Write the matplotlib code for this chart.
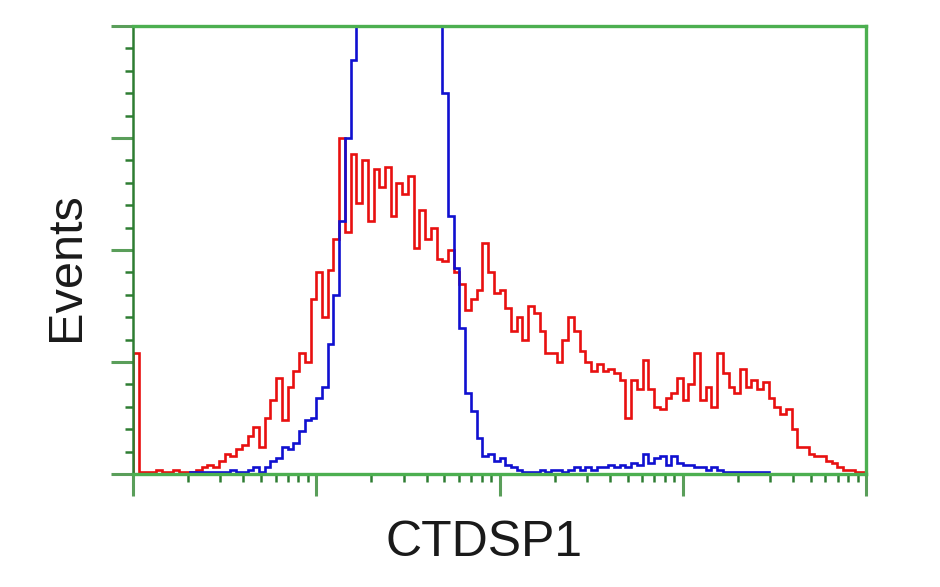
import numpy as np
import matplotlib.pyplot as plt

plt.rcParams['font.family'] = ['Liberation Sans', 'DejaVu Sans']

# histogram counts, 128 log-spaced channels over 4 decades
red_counts = [54, 1, 1, 1, 2, 1, 1, 2, 1, 1, 1, 2, 3, 4, 3, 6,
              9, 8, 11, 13, 17, 21, 12, 25, 33, 43, 24, 39, 46, 54, 50, 78,
              90, 70, 91, 105, 150, 108, 143, 121, 140, 113, 136, 128, 137, 115, 130, 125,
              133, 101, 118, 105, 110, 96, 95, 100, 90, 85, 73, 78, 82, 103, 90, 81,
              82, 74, 64, 70, 60, 75, 72, 64, 54, 54, 50, 60, 70, 64, 55, 50,
              46, 49, 46, 47, 45, 42, 25, 42, 38, 51, 38, 30, 29, 34, 36, 43,
              33, 40, 54, 33, 39, 30, 54, 45, 39, 36, 47, 39, 42, 38, 41, 34,
              30, 27, 29, 20, 12, 12, 9, 8, 8, 6, 5, 3, 2, 2, 1, 1]

blue_counts = [0, 0, 0, 0, 0, 0, 0, 0, 0, 0, 1, 1, 1, 1, 1, 1,
               1, 2, 1, 1, 2, 3, 1, 3, 6, 7, 12, 11, 14, 19, 24, 25,
               34, 39, 58, 80, 113, 150, 185, 215, 230, 240, 245, 250, 250, 248, 245, 240,
               235, 230, 225, 220, 212, 205, 170, 115, 92, 65, 36, 28, 16, 8, 9, 6,
               7, 4, 3, 2, 1, 1, 1, 2, 1, 2, 2, 1, 2, 3, 2, 3,
               2, 3, 3, 4, 3, 4, 3, 5, 4, 9, 5, 7, 8, 4, 8, 5,
               4, 4, 3, 3, 2, 3, 2, 1, 1, 1, 1, 1, 1, 1, 1, 0,
               0, 0, 0, 0, 0, 0, 0, 0, 0, 0, 0, 0, 0, 0, 0, 0]

edges = np.logspace(0, 4, len(red_counts) + 1)

fig = plt.figure(figsize=(9.4, 5.87), dpi=100)
ax = fig.add_axes([133/940, 1 - 474/587, 733/940, 448/587])

ax.stairs(red_counts, edges, color='#e81010', lw=1.9, baseline=0)
ax.stairs(blue_counts, edges, color='#1010d0', lw=1.9, baseline=0)

ax.set_xscale('log')
ax.set_xlim(1, 1e4)
ax.set_ylim(0, 200)
ax.set_yticks([0, 50, 100, 150, 200])
ax.set_yticks(np.arange(0, 201, 10), minor=True)
ax.set_xticks([1, 10, 100, 1000, 10000])
ax.set_xticklabels([])
ax.set_yticklabels([])
ax.set_yticklabels([], minor=True)
ax.set_xticklabels([], minor=True)

dark = '#2e7d32'
light = '#4caf50'
for s in ['top', 'right', 'bottom']:
    ax.spines[s].set_color(light)
    ax.spines[s].set_linewidth(2.4)
ax.spines['left'].set_color(dark)
ax.spines['left'].set_linewidth(1.8)

ax.tick_params(axis='both', which='major', direction='out', length=16, width=2.2, color='#5a9e5a')
ax.tick_params(axis='both', which='minor', direction='out', length=5.5, width=1.8, color=dark)

fig.text(0.071, 0.545, 'Events', rotation=90, fontsize=35, ha='center', va='center', color='#1a1a1a')
fig.text(0.515, 0.075, 'CTDSP1', fontsize=36, ha='center', va='center', color='#1a1a1a')

fig.savefig('out.png', dpi=100, facecolor='white')
